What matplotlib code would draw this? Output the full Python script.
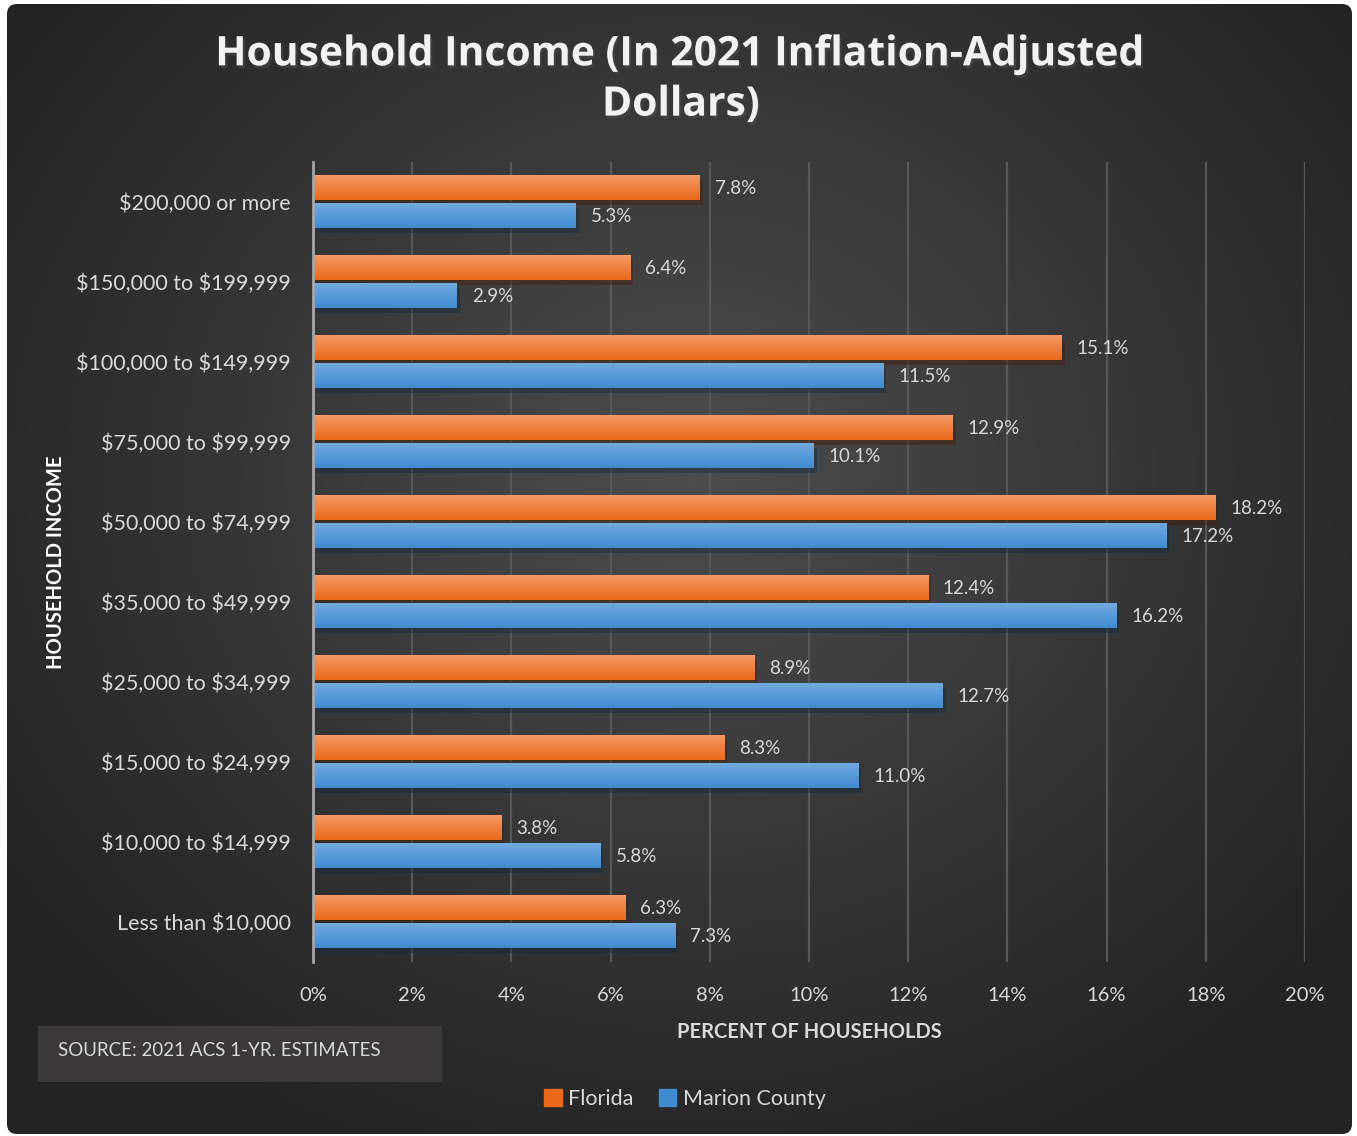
import matplotlib
matplotlib.use("Agg")
import matplotlib.pyplot as plt
import matplotlib.patheffects as pe
from matplotlib.patches import FancyBboxPatch, Rectangle
import numpy as np

# ── DATA ──────────────────────────────────────────────────────────────────────
categories = ['Less than $10,000', '$10,000 to $14,999', '$15,000 to $24,999',
              '$25,000 to $34,999', '$35,000 to $49,999', '$50,000 to $74,999',
              '$75,000 to $99,999', '$100,000 to $149,999', '$150,000 to $199,999',
              '$200,000 or more']
florida = [6.3, 3.8, 8.3, 8.9, 12.4, 18.2, 12.9, 15.1, 6.4, 7.8]
marion = [7.3, 5.8, 11.0, 12.7, 16.2, 17.2, 10.1, 11.5, 2.9, 5.3]
x_ticks = [0, 2, 4, 6, 8, 10, 12, 14, 16, 18, 20]

# ── STYLE ─────────────────────────────────────────────────────────────────────
FONT = 'Lato'
TXT = '#d9d9d9'
ORANGE_TOP, ORANGE_BOT = '#f49a66', '#e8691c'
BLUE_TOP, BLUE_BOT = '#72aae0', '#408bd0'
W, H = 1357, 1136

fig = plt.figure(figsize=(W / 100, H / 100), dpi=100, facecolor='white')

# ── BACKGROUND PANEL (radial gradient, rounded) ──────────────────────────────
bg = fig.add_axes([0, 0, 1, 1], zorder=0)
bg.set_xlim(0, W)
bg.set_ylim(H, 0)
bg.axis('off')
yy, xx = np.mgrid[0:H:4, 0:W:4]
r = np.sqrt(((xx - 690) / 760.0) ** 2 + ((yy - 470) / 680.0) ** 2)
shade = np.clip(0.30 - 0.15 * r, 0.14, 0.30)
panel = FancyBboxPatch((7, 4), 1345, 1130, boxstyle='round,pad=0,rounding_size=10',
                       transform=bg.transData, facecolor='none', edgecolor='none')
bg.add_patch(panel)
im = bg.imshow(np.dstack([shade] * 3), extent=(0, W, H, 0), aspect='auto',
               interpolation='bilinear')
im.set_clip_path(panel)

# source box
bg.add_patch(Rectangle((38, 1026), 404, 56, facecolor='#3a3937', edgecolor='none'))
bg.text(58, 1051, 'SOURCE: 2021 ACS 1-YR. ESTIMATES', color=TXT, fontsize=13.5,
        family=FONT, va='center', ha='left')

# ── MAIN AXES ─────────────────────────────────────────────────────────────────
ax = fig.add_axes([313 / W, 1 - 962 / H, (1305 - 313) / W, 800 / H], zorder=1)
ax.set_facecolor('none')

y = np.arange(len(categories))
bh = 0.31
off = 0.175


def gradient_bars(bars, top, bot):
    c1 = np.array(matplotlib.colors.to_rgb(top))
    c2 = np.array(matplotlib.colors.to_rgb(bot))
    t = np.linspace(0, 1, 32)[:, None]
    grad = (c1 * (1 - t) + c2 * t)[:, None, :]
    for b in bars:
        x0, y0, w, h = b.get_x(), b.get_y(), b.get_width(), b.get_height()
        ax.imshow(grad, extent=(x0, x0 + w, y0, y0 + h), aspect='auto',
                  origin='upper', zorder=3)


shadow = [pe.SimplePatchShadow(offset=(2, -3), alpha=0.45), pe.Normal()]
fl_bars = ax.barh(y + off, florida, height=bh, color=ORANGE_BOT, zorder=2, path_effects=shadow)
mc_bars = ax.barh(y - off, marion, height=bh, color=BLUE_BOT, zorder=2, path_effects=shadow)
gradient_bars(fl_bars, ORANGE_TOP, ORANGE_BOT)
gradient_bars(mc_bars, BLUE_TOP, BLUE_BOT)

for i in range(len(categories)):
    ax.text(florida[i] + 0.3, y[i] + off, f'{florida[i]:.1f}%', color=TXT,
            fontsize=13.5, family=FONT, va='center', ha='left', zorder=4)
    ax.text(marion[i] + 0.3, y[i] - off, f'{marion[i]:.1f}%', color=TXT,
            fontsize=13.5, family=FONT, va='center', ha='left', zorder=4)

ax.set_xlim(0, 20)
ax.set_ylim(-0.5, len(categories) - 0.5)
ax.set_xticks(x_ticks)
ax.set_xticklabels([f'{v}%' for v in x_ticks], color=TXT, fontsize=14.5, family=FONT)
ax.set_yticks(y)
# escape the dollar signs so they are not read as mathtext
ax.set_yticklabels([c.replace('$', r'\$') for c in categories], color=TXT,
                   fontsize=15.5, family=FONT)
ax.tick_params(axis='both', length=0)
ax.tick_params(axis='x', pad=18)
ax.tick_params(axis='y', pad=16)
ax.grid(axis='x', color='#575757', linewidth=1.6, zorder=0)
ax.set_axisbelow(True)
for s in ['top', 'right', 'bottom']:
    ax.spines[s].set_visible(False)
ax.spines['left'].set_color('#a6a6a6')
ax.spines['left'].set_linewidth(2)
ax.spines['left'].set_zorder(5)

ax.set_xlabel('PERCENT OF HOUSEHOLDS', color=TXT, fontsize=14.5, family=FONT,
              fontweight='bold', labelpad=13)
ax.set_ylabel('HOUSEHOLD INCOME', color='white', fontsize=14.5, family=FONT,
              fontweight='bold', labelpad=7)

# ── TITLE ─────────────────────────────────────────────────────────────────────
fig.text(681 / W, 1 - 80 / H, 'Household Income (In 2021 Inflation-Adjusted\nDollars)',
         color='#f2f2f2', fontsize=29.4, family='Open Sans', fontweight='bold',
         ha='center', va='center', linespacing=1.3,
         path_effects=[pe.SimplePatchShadow(offset=(1.5, -2), alpha=0.6), pe.Normal()])

# ── LEGEND ────────────────────────────────────────────────────────────────────
handles = [Rectangle((0, 0), 1, 1, color=ORANGE_BOT), Rectangle((0, 0), 1, 1, color=BLUE_BOT)]
leg = fig.legend(handles, ['Florida', 'Marion County'], loc='center',
                 bbox_to_anchor=(685 / W, 1 - 1099 / H), ncol=2, frameon=False,
                 handlelength=0.8, handleheight=0.8, handletextpad=0.3, columnspacing=1.2,
                 prop={'family': FONT, 'size': 15.5})
for t in leg.get_texts():
    t.set_color(TXT)

fig.savefig('out.png', dpi=100, facecolor='white')
